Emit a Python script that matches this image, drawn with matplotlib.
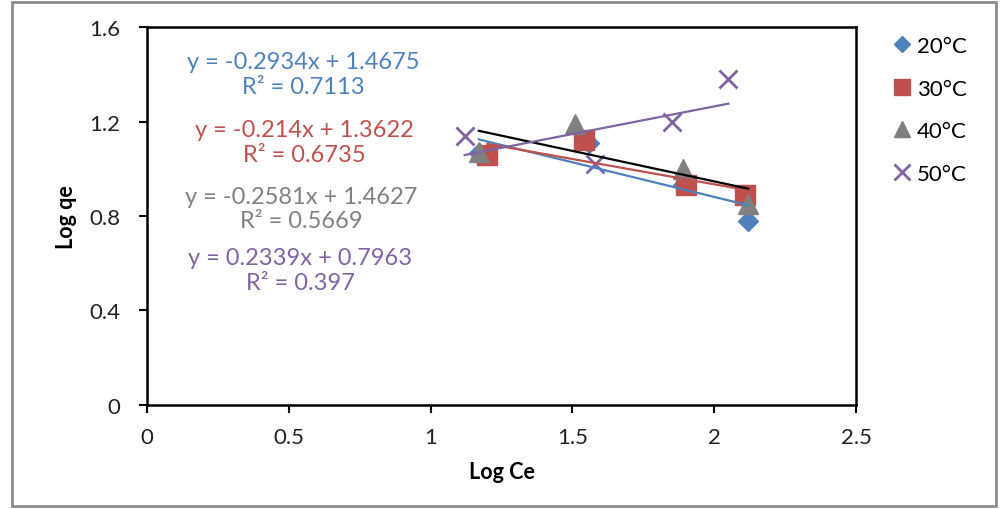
import numpy as np
import matplotlib.pyplot as plt
from matplotlib.patches import Rectangle

plt.rcParams['font.family'] = ['Lato', 'DejaVu Sans']

# Log Ce / Log qe for each temperature
labels = ['20°C', '30°C', '40°C', '50°C']
x20 = [1.17, 1.56, 1.89, 2.12]
y20 = [1.065, 1.11, 0.93, 0.78]
x30 = [1.20, 1.54, 1.90, 2.11]
y30 = [1.06, 1.12, 0.93, 0.89]
x40 = [1.17, 1.51, 1.89, 2.12]
y40 = [1.07, 1.19, 1.00, 0.85]
x50 = [1.12, 1.58, 1.85, 2.05]
y50 = [1.14, 1.02, 1.20, 1.38]

# linear trendlines (slope, intercept, R^2)
slopes = [-0.2934, -0.214, -0.2581, 0.2339]
intercepts = [1.4675, 1.3622, 1.4627, 0.7963]
r2 = ['0.7113', '0.6735', '0.5669', '0.397']

xs = [x20, x30, x40, x50]
ys = [y20, y30, y40, y50]
colors = ['#4F81BD', '#C0504D', '#808080', '#8064A2']
line_colors = ['#4F81BD', '#C0504D', '#000000', '#8064A2']
markers = ['D', 's', '^', 'x']
msizes = [10, 14, 14, 13]

fig = plt.figure(figsize=(10.01, 5.10), dpi=100)
ax = fig.add_axes([0.1469, 0.204, 0.7083, 0.741])

handles = []
for i in range(4):
    if markers[i] == 'x':
        h, = ax.plot(xs[i], ys[i], linestyle='none', marker='x', ms=msizes[i],
                     mew=2, color=colors[i], zorder=3)
    else:
        h, = ax.plot(xs[i], ys[i], linestyle='none', marker=markers[i], ms=msizes[i],
                     mfc=colors[i], mec=colors[i], zorder=3)
    handles.append(h)

for i in range(4):
    xl = np.array([min(xs[i]), max(xs[i])])
    ax.plot(xl, slopes[i] * xl + intercepts[i], color=line_colors[i], lw=1.6, zorder=4)

# equation labels
eq_pos = [(0.551, 1.40), (0.556, 1.112), (0.545, 0.832), (0.54, 0.571)]
for i in range(4):
    eq = 'y = %gx + %g' % (slopes[i], intercepts[i])
    ax.text(eq_pos[i][0], eq_pos[i][1], eq + '\nR² = ' + r2[i], color=colors[i],
            fontsize=17, ha='center', va='center', linespacing=1.22)

ax.set_xlim(0, 2.5)
ax.set_ylim(0, 1.6)
ax.set_xticks([0, 0.5, 1, 1.5, 2, 2.5])
ax.set_xticklabels(['0', '0.5', '1', '1.5', '2', '2.5'])
ax.set_yticks([0, 0.4, 0.8, 1.2, 1.6])
ax.set_yticklabels(['0', '0.4', '0.8', '1.2', '1.6'])
ax.tick_params(direction='out', length=6, width=1.5, labelsize=16,
               colors='black', labelcolor='#222222')
ax.tick_params(axis='y', pad=13)
ax.tick_params(axis='x', pad=10)
for s in ax.spines.values():
    s.set_linewidth(1.8)
    s.set_color('black')

ax.set_xlabel('Log Ce', fontsize=15.5, fontweight='bold', labelpad=10)
ax.set_ylabel('Log qe', fontsize=15.5, fontweight='bold', labelpad=9)

fig.legend(handles, labels, loc='upper left', bbox_to_anchor=(0.883, 0.945),
           frameon=False, fontsize=16, handlelength=0.8, handletextpad=0.3,
           labelspacing=1.02, borderaxespad=0, markerscale=0.85)

# outer chart border
fig.patches.append(Rectangle((0.012, 0.005), 0.983, 0.99, transform=fig.transFigure,
                             fill=False, edgecolor='#8c8c8c', lw=2))

fig.savefig('out.png', dpi=100)
